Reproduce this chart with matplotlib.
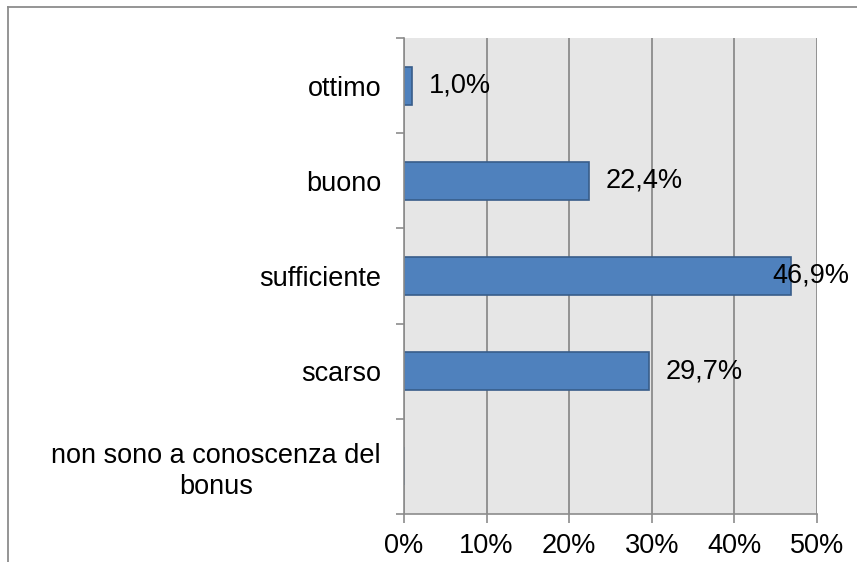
import matplotlib
matplotlib.use("Agg")
import matplotlib.pyplot as plt
from matplotlib.lines import Line2D
import numpy as np

plt.rcParams['font.family'] = ['Liberation Sans', 'DejaVu Sans']

categories = ["ottimo", "buono", "sufficiente", "scarso",
              "non sono a conoscenza del\nbonus"]
values = [1.0, 22.4, 46.9, 29.7, 0.0]
xticks = [0, 10, 20, 30, 40, 50]

FS = 19.5

fig = plt.figure(figsize=(8.57, 5.62), dpi=100)
ax = fig.add_axes([404 / 857, 48 / 562, 413 / 857, 476 / 562])
ax.set_facecolor('#e6e6e6')

n = len(categories)
ypos = np.arange(n)[::-1]  # first category on top
ax.barh(ypos, values, height=0.4, color='#4f81bd', edgecolor='#385d8a',
        linewidth=1.2, zorder=3)

ax.set_xlim(0, 50)
ax.set_ylim(-0.5, n - 0.5)

# gridlines
ax.set_xticks(xticks)
ax.set_xticklabels([f"{t}%" for t in xticks], fontsize=FS)
ax.grid(axis='x', color='#8c8c8c', linewidth=1.3, zorder=1)
ax.tick_params(axis='x', direction='out', length=6.5, width=1.2,
               color='#8c8c8c', pad=7.5)

# category boundaries as major ticks, labels on minor ticks
ax.set_yticks(np.arange(-0.5, n, 1.0))
ax.set_yticklabels([])
ax.set_yticks(ypos, minor=True)
ax.set_yticklabels(categories, minor=True, fontsize=FS,
                   multialignment='center', linespacing=1.25)
ax.tick_params(axis='y', which='major', direction='out', length=6,
               width=1.2, color='#8c8c8c')
ax.tick_params(axis='y', which='minor', length=0, pad=16.5)

for s in ['top', 'right']:
    ax.spines[s].set_visible(False)
for s in ['left', 'bottom']:
    ax.spines[s].set_color('#8c8c8c')
    ax.spines[s].set_linewidth(1.2)
    ax.spines[s].set_zorder(4)

# data labels, pushed back inside the chart area if they overflow
fig.canvas.draw()
renderer = fig.canvas.get_renderer()
for y, v in zip(ypos, values):
    if v == 0:
        continue
    t = ax.annotate(f"{v:.1f}%".replace('.', ','), (v, y),
                    xytext=(12, 0), textcoords='offset points',
                    ha='left', va='center', fontsize=FS, zorder=5)
    bb = t.get_window_extent(renderer)
    limit = 849 * fig.dpi / 100
    if bb.x1 > limit:
        t.set_position((12 - (bb.x1 - limit) * 72 / fig.dpi, 0))

# chart area border
c = '#8c8c8c'
fig.add_artist(Line2D([8 / 857, 8 / 857], [0, 1 - 7 / 562], color=c,
                      linewidth=1.3, transform=fig.transFigure))
fig.add_artist(Line2D([8 / 857, 1], [1 - 7 / 562, 1 - 7 / 562], color=c,
                      linewidth=1.3, transform=fig.transFigure))

fig.savefig("out.png", dpi=100)
